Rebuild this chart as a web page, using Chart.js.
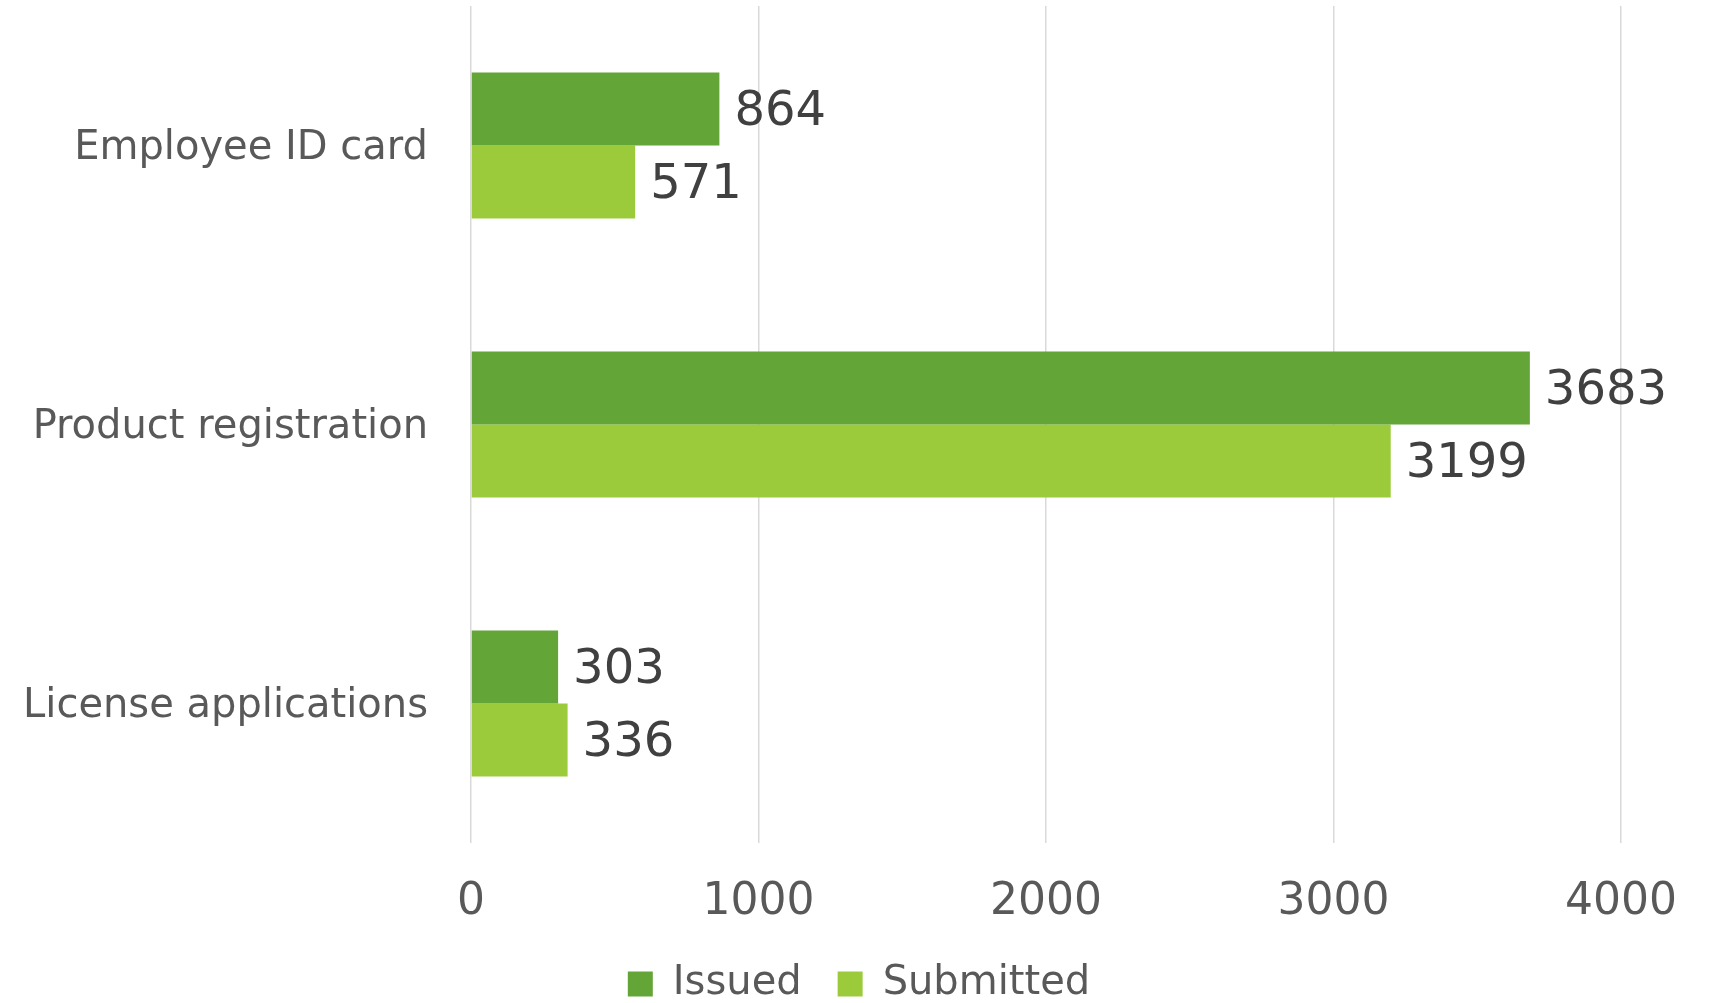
<!DOCTYPE html>
<html>
<head>
<meta charset="utf-8">
<script src="https://cdn.jsdelivr.net/npm/chart.js@4/dist/chart.umd.min.js"></script>
<style>
  html, body { margin: 0; padding: 0; background: #fff; }
  #wrap { width: 1709px; height: 1003px; }
</style>
</head>
<body>
<div id="wrap"><canvas id="grafico" width="1709" height="1003"></canvas></div>
<script>
const categorias = ['Employee ID card', 'Product registration', 'License applications'];
const emitidos = [864, 3683, 303];
const enviados = [571, 3199, 336];
const ticksX = [0, 1000, 2000, 3000, 4000];

const FONTE = '"DejaVu Sans", sans-serif';

// rótulos de valor no fim de cada barra
const rotulos = {
    id: 'rotulos',
    afterDatasetsDraw(chart) {
        const ctx = chart.ctx;
        ctx.save();
        ctx.font = '48px ' + FONTE;
        ctx.fillStyle = '#404040';
        ctx.textAlign = 'left';
        ctx.textBaseline = 'middle';
        chart.data.datasets.forEach((ds, i) => {
            chart.getDatasetMeta(i).data.forEach((bar, j) => {
                ctx.fillText(ds.data[j], bar.x + 15, bar.y + 4);
            });
        });
        ctx.restore();
    }
};

new Chart(document.getElementById('grafico'), {
    type: 'bar',
    data: {
        labels: categorias,
        datasets: [
            { label: 'Issued', data: emitidos, backgroundColor: '#63A537' },
            { label: 'Submitted', data: enviados, backgroundColor: '#9BCB3B' }
        ]
    },
    options: {
        indexAxis: 'y',
        responsive: false,
        animation: false,
        layout: { padding: { top: 6, right: 0, bottom: -11, left: 9 } },
        datasets: { bar: { categoryPercentage: 0.523, barPercentage: 1 } },
        plugins: {
            legend: {
                position: 'bottom',
                labels: {
                    color: '#595959',
                    font: { family: FONTE, size: 40 },
                    boxWidth: 25,
                    boxHeight: 25,
                    padding: 36
                }
            },
            tooltip: { enabled: false }
        },
        scales: {
            x: {
                min: 0,
                max: 4000,
                afterBuildTicks(scale) {
                    scale.ticks = ticksX.map(v => ({ value: v }));
                },
                afterFit(scale) {
                    scale.height = 85;
                    scale.paddingRight = 88;
                },
                ticks: {
                    color: '#595959',
                    font: { family: FONTE, size: 44 },
                    padding: 33,
                    callback: v => String(v)
                },
                grid: { color: '#d9d9d9', lineWidth: 1.5, drawTicks: false },
                border: { display: false }
            },
            y: {
                afterFit(scale) {
                    scale.width = 462;
                    scale.paddingTop = 0;
                    scale.paddingBottom = 0;
                },
                ticks: {
                    color: '#595959',
                    font: { family: FONTE, size: 40 },
                    padding: 43,
                    labelOffset: 3
                },
                grid: { display: false, drawTicks: false },
                border: { display: false }
            }
        }
    },
    plugins: [rotulos]
});
</script>
</body>
</html>
